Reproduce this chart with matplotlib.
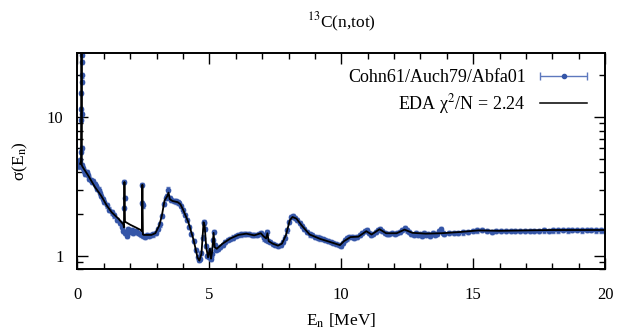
import numpy as np
import matplotlib
matplotlib.use("Agg")
import matplotlib.pyplot as plt
from matplotlib.ticker import FixedLocator, NullFormatter, FixedFormatter
from matplotlib.legend_handler import HandlerErrorbar
from matplotlib.container import ErrorbarContainer

plt.rcParams['font.family'] = ['Liberation Serif', 'DejaVu Serif']
plt.rcParams['mathtext.fontset'] = 'stix'

# ---- experimental data (Cohn61/Auch79/Abfa01) ----
E_exp = [0.02, 0.05, 0.08, 0.11, 0.13, 0.145, 0.148, 0.150, 0.152, 0.153, 0.154, 0.156, 0.158, 0.162,
         0.18, 0.21, 0.25, 0.30, 0.35, 0.40, 0.45, 0.50, 0.55, 0.60, 0.65, 0.70, 0.75, 0.80, 0.85,
         0.90, 0.95, 1.00, 1.1, 1.2, 1.3, 1.4, 1.5, 1.6, 1.7, 1.74, 1.76, 1.78, 1.79, 1.81, 1.86,
         1.92, 1.98, 2.05, 2.12, 2.2, 2.28, 2.36, 2.42, 2.45, 2.46, 2.47, 2.50, 2.56, 2.64, 2.72,
         2.80, 2.88, 2.96, 3.04, 3.12, 3.20, 3.28, 3.34, 3.40, 3.45, 3.50, 3.56, 3.64, 3.72, 3.80,
         3.86, 3.92, 4.00, 4.08, 4.16, 4.24, 4.32, 4.40, 4.48, 4.55, 4.60, 4.65, 4.70, 4.74, 4.78,
         4.80, 4.84, 4.88, 4.92, 4.97, 5.01, 5.04, 5.07, 5.10, 5.14, 5.17, 5.20, 5.25, 5.32, 5.40,
         5.50, 5.60, 5.70, 5.80, 5.90, 6.00, 6.10, 6.20, 6.30, 6.40, 6.50, 6.60, 6.70, 6.80, 6.90,
         6.96, 7.02, 7.08, 7.14, 7.20, 7.24, 7.30, 7.40, 7.50, 7.60, 7.70, 7.78, 7.86, 7.94, 8.02,
         8.10, 8.18, 8.26, 8.34, 8.42, 8.50, 8.60, 8.70, 8.80, 8.90, 9.00, 9.10, 9.20, 9.30, 9.40,
         9.50, 9.60, 9.70, 9.80, 9.90, 9.98, 10.06, 10.14, 10.22, 10.30, 10.40, 10.50, 10.60, 10.70,
         10.80, 10.90, 10.96, 11.04, 11.12, 11.20, 11.30, 11.40, 11.48, 11.56, 11.64, 11.72, 11.82,
         11.92, 12.02, 12.12, 12.22, 12.32, 12.42, 12.50, 12.58, 12.66, 12.74, 12.82, 12.90, 12.98,
         13.06, 13.14, 13.22, 13.30, 13.38, 13.46, 13.54, 13.62, 13.70, 13.78, 13.84, 13.90,
         14.08, 14.26, 14.44, 14.62, 14.80, 14.98, 15.16, 15.34, 15.52, 15.70, 15.88, 16.06, 16.24,
         16.42, 16.60, 16.78, 16.96, 17.14, 17.32, 17.50, 17.68, 17.86, 18.04, 18.22, 18.40, 18.58,
         18.76, 18.94, 19.12, 19.30, 19.48, 19.66, 19.84, 20.00]
sig_exp = [4.6, 4.4, 4.7, 4.9, 5.6, 9.5, 11.5, 15, 20, 25, 28, 18, 10.5, 6.0,
           4.5, 4.3, 4.1, 3.9, 4.0, 3.8, 3.6, 3.5, 3.4, 3.45, 3.3, 3.2, 3.05, 3.0, 2.85,
           2.7, 2.55, 2.45, 2.3, 2.15, 2.05, 1.95, 1.8, 1.72, 1.62, 1.50, 2.2, 3.4, 2.6, 1.45, 1.38,
           1.55, 1.48, 1.52, 1.45, 1.50, 1.46, 1.44, 1.42, 2.4, 3.25, 2.3, 1.38, 1.37, 1.40, 1.38,
           1.40, 1.42, 1.46, 1.55, 1.68, 1.92, 2.35, 2.62, 2.70, 3.0, 2.6, 2.52, 2.48, 2.46, 2.42,
           2.40, 2.28, 2.12, 1.96, 1.80, 1.62, 1.44, 1.27, 1.10, 0.98, 0.93, 0.94, 1.05, 1.35, 1.72,
           1.76, 1.55, 1.18, 0.99, 0.98, 1.10, 1.08, 0.95, 1.02, 1.30, 1.48, 1.20, 1.10, 1.12, 1.16,
           1.20, 1.25, 1.29, 1.32, 1.35, 1.38, 1.40, 1.42, 1.44, 1.44, 1.43, 1.41, 1.40, 1.41, 1.44,
           1.46, 1.40, 1.33, 1.30, 1.47, 1.28, 1.25, 1.22, 1.20, 1.17, 1.20, 1.25, 1.35, 1.52, 1.75,
           1.90, 1.92, 1.87, 1.82, 1.72, 1.64, 1.56, 1.48, 1.42, 1.40, 1.37, 1.35, 1.33, 1.31, 1.29,
           1.27, 1.25, 1.23, 1.21, 1.19, 1.17, 1.24, 1.30, 1.33, 1.36, 1.36, 1.35, 1.37, 1.40,
           1.45, 1.50, 1.52, 1.46, 1.41, 1.43, 1.48, 1.54, 1.56, 1.50, 1.46, 1.44, 1.44,
           1.45, 1.44, 1.46, 1.49, 1.53, 1.57, 1.52, 1.48, 1.44, 1.41, 1.45, 1.40, 1.44,
           1.39, 1.45, 1.40, 1.44, 1.39, 1.46, 1.41, 1.44, 1.50, 1.55, 1.46, 1.43,
           1.45, 1.46, 1.45, 1.47, 1.49, 1.51, 1.52, 1.53, 1.50, 1.49, 1.50, 1.50, 1.51,
           1.51, 1.50, 1.51, 1.51, 1.50, 1.51, 1.51, 1.52, 1.51, 1.52, 1.52, 1.53, 1.52,
           1.53, 1.53, 1.52, 1.53, 1.53, 1.52, 1.52, 1.51]
rel_err = 0.035

# ---- EDA fit curve ----
E_eda = [0.10, 0.14, 0.15, 0.153, 0.156, 0.16, 0.2, 0.4, 0.66, 0.9, 1.11, 1.3, 1.55, 1.67, 1.74,
         1.76, 1.78, 1.80, 1.84, 2.0, 2.2, 2.40, 2.44, 2.46, 2.48, 2.52, 2.6, 2.8, 2.95, 3.1, 3.2,
         3.3, 3.4, 3.45, 3.5, 3.6, 3.8, 3.9, 4.0, 4.2, 4.4, 4.55, 4.62, 4.70, 4.78, 4.82, 4.88,
         4.95, 5.02, 5.06, 5.10, 5.16, 5.20, 5.28, 5.5, 5.8, 6.1, 6.4, 6.7, 6.95, 7.05, 7.15, 7.2,
         7.25, 7.4, 7.6, 7.75, 7.9, 8.05, 8.15, 8.3, 8.5, 8.8, 9.2, 9.6, 9.95, 10.1, 10.35, 10.65,
         10.95, 11.15, 11.45, 11.7, 12.1, 12.4, 12.7, 13.2, 13.8, 14.5, 15.2, 16, 17, 18, 19, 20]
sig_eda = [4.6, 4.8, 12, 40, 12, 4.5, 4.35, 3.8, 3.13, 2.7, 2.3, 2.05, 1.85, 1.74, 1.68,
           1.60, 3.4, 1.75, 1.74, 1.67, 1.60, 1.53, 1.50, 3.25, 1.42, 1.41, 1.41, 1.41, 1.45, 1.65, 1.95,
           2.5, 2.68, 2.85, 2.55, 2.48, 2.43, 2.35, 2.15, 1.75, 1.30, 0.97, 0.92, 1.03, 1.74, 1.65, 1.15,
           0.97, 1.12, 0.95, 1.05, 1.46, 1.15, 1.12, 1.22, 1.33, 1.41, 1.44, 1.40, 1.45, 1.38, 1.33, 1.45,
           1.27, 1.22, 1.18, 1.22, 1.40, 1.80, 1.90, 1.85, 1.65, 1.42, 1.32, 1.25, 1.19, 1.27, 1.36, 1.37,
           1.50, 1.42, 1.55, 1.45, 1.45, 1.54, 1.46, 1.44, 1.45, 1.48, 1.52, 1.51, 1.52, 1.53, 1.53, 1.53]

x_ticks = [0, 5, 10, 15, 20]
y_ticks = [1, 10]
y_ticklabels = ['1', '10']

blue = '#3556a8'
eblue = '#5d78bd'

fig = plt.figure(figsize=(6.18, 3.36), dpi=100)
ax = fig.add_axes([0.1254, 0.1994, 0.8536, 0.6426])

E = np.array(E_exp)
s = np.array(sig_exp)
ax.errorbar(E, s, yerr=rel_err * s, fmt='o', ms=3.1, color=blue, ecolor=eblue,
            elinewidth=1.1, capsize=1.5, capthick=1.0, zorder=2)
ax.plot(E_eda, sig_eda, color='black', lw=1.3, zorder=3)

ax.set_yscale('log')
ax.set_xlim(0, 20)
ax.set_ylim(0.8, 29)

ax.xaxis.set_major_locator(FixedLocator(x_ticks))
ax.xaxis.set_minor_locator(FixedLocator(np.arange(0, 21, 1)))
ax.yaxis.set_major_locator(FixedLocator(y_ticks))
ax.yaxis.set_major_formatter(FixedFormatter(y_ticklabels))
ax.yaxis.set_minor_locator(FixedLocator([0.8, 0.9, 2, 3, 4, 5, 6, 7, 8, 9, 20]))
ax.yaxis.set_minor_formatter(NullFormatter())

ax.tick_params(which='both', direction='in', top=True, right=True, labelsize=12, width=1.0)
ax.tick_params(axis='x', which='major', length=8, pad=13)
ax.tick_params(axis='y', which='major', length=8, pad=10)
ax.tick_params(which='minor', length=4)
for sp in ax.spines.values():
    sp.set_linewidth(1.4)

ax.set_xlabel('E$_\\mathrm{n}$ [MeV]', fontsize=12.5, labelpad=6)
ax.set_ylabel('σ(E$_\\mathrm{n}$)', fontsize=12.5, labelpad=12)
ax.set_title('$^{13}$C(n,tot)', fontsize=12.5, pad=18)

# legend proxies
h1 = ax.errorbar([np.nan], [np.nan], xerr=[[1]], fmt='o', ms=3.0, color=blue, ecolor=eblue,
                 elinewidth=1.0, capsize=3.2, capthick=1.0)
h2, = ax.plot([np.nan], [np.nan], color='black', lw=1.1)
leg = ax.legend([h1, h2], ['Cohn61/Auch79/Abfa01', 'EDA χ$^2$/N = 2.24'], loc='upper right',
                bbox_to_anchor=(0.99, 0.985), frameon=False, markerfirst=False, fontsize=13,
                handlelength=2.6, handletextpad=0.8, labelspacing=0.35, borderaxespad=0.3,
                handler_map={ErrorbarContainer: HandlerErrorbar(xerr_size=1.3)})

fig.savefig('out.png', dpi=100)
